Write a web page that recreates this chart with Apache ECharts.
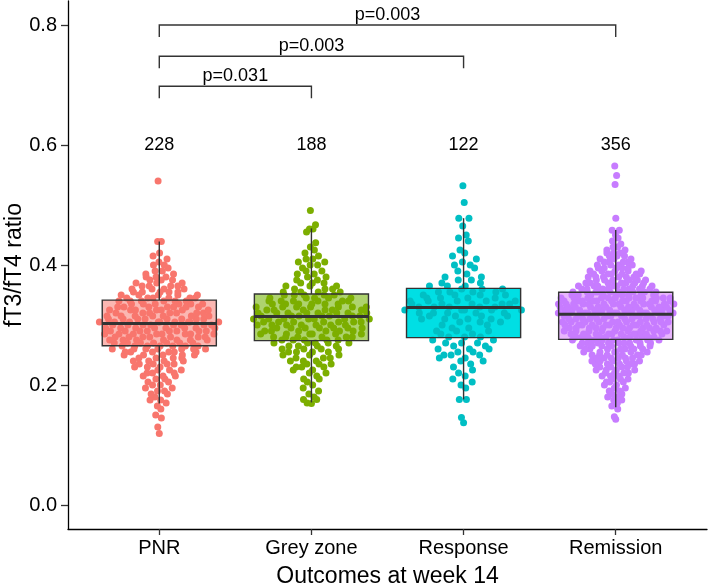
<!DOCTYPE html>
<html><head><meta charset="utf-8">
<script src="https://cdn.jsdelivr.net/npm/echarts@6.0.0/dist/echarts.min.js"></script>
<style>html,body{margin:0;padding:0;background:#fff}#c{width:709px;height:584px}</style>
</head><body><div id="c"></div>
<script>
// ---------------- data ----------------
const categories = ['PNR', 'Grey zone', 'Response', 'Remission'];
const groupSizes = [228, 188, 122, 356];

// [value, number of points at that value]
const pnrBins = [[0.119,1],[0.130,1],[0.145,1],[0.150,1],[0.160,1],[0.165,1],[0.170,1],[0.175,2],[0.180,1],[0.185,2],[0.190,2],[0.195,2],[0.200,2],[0.205,2],[0.210,2],[0.215,3],[0.220,3],[0.225,3],[0.230,3],[0.235,4],[0.240,4],[0.245,4],[0.250,5],[0.255,6],[0.260,7],[0.265,7],[0.270,7],[0.275,7],[0.280,7],[0.285,8],[0.290,8],[0.295,8],[0.300,8],[0.305,9],[0.310,8],[0.315,7],[0.320,7],[0.325,7],[0.330,7],[0.335,6],[0.340,6],[0.345,6],[0.350,5],[0.355,5],[0.360,4],[0.365,4],[0.370,3],[0.375,3],[0.380,3],[0.385,2],[0.390,2],[0.395,1],[0.400,2],[0.405,1],[0.410,1],[0.415,1],[0.420,1],[0.439,2],[0.540,1]];
const greyBins = [[0.169,1],[0.170,1],[0.176,2],[0.180,1],[0.185,1],[0.190,1],[0.195,1],[0.200,1],[0.205,1],[0.210,2],[0.215,1],[0.220,2],[0.225,2],[0.230,3],[0.235,3],[0.240,3],[0.245,3],[0.250,3],[0.255,4],[0.260,4],[0.265,4],[0.270,5],[0.275,5],[0.280,6],[0.285,6],[0.290,6],[0.295,7],[0.300,7],[0.305,7],[0.310,7],[0.315,7],[0.320,8],[0.325,6],[0.330,7],[0.335,6],[0.340,6],[0.345,5],[0.350,5],[0.355,4],[0.360,3],[0.365,3],[0.370,3],[0.375,2],[0.380,2],[0.385,2],[0.390,2],[0.395,1],[0.400,2],[0.405,2],[0.410,2],[0.415,1],[0.420,1],[0.425,1],[0.430,1],[0.437,1],[0.455,1],[0.460,2],[0.467,1],[0.491,1]];
const responseBins = [[0.137,1],[0.146,1],[0.176,2],[0.195,1],[0.200,1],[0.205,1],[0.210,1],[0.215,1],[0.220,1],[0.225,1],[0.230,1],[0.235,1],[0.240,2],[0.245,2],[0.250,3],[0.255,2],[0.260,3],[0.265,2],[0.270,3],[0.275,2],[0.280,3],[0.285,2],[0.290,3],[0.295,2],[0.300,2],[0.305,3],[0.310,4],[0.315,4],[0.320,5],[0.325,5],[0.330,5],[0.335,5],[0.340,5],[0.345,4],[0.350,4],[0.355,4],[0.360,3],[0.365,3],[0.370,2],[0.375,2],[0.380,2],[0.385,1],[0.390,1],[0.395,1],[0.400,2],[0.405,1],[0.410,1],[0.415,1],[0.420,1],[0.425,1],[0.440,1],[0.445,1],[0.450,1],[0.465,1],[0.478,2],[0.504,1],[0.532,1]];
const remissionBins = [[0.143,1],[0.147,1],[0.160,1],[0.165,1],[0.170,1],[0.175,2],[0.180,2],[0.185,2],[0.190,2],[0.195,2],[0.200,2],[0.205,3],[0.210,3],[0.215,3],[0.220,4],[0.225,4],[0.230,4],[0.235,5],[0.240,5],[0.245,6],[0.250,6],[0.255,6],[0.260,7],[0.265,7],[0.270,9],[0.275,9],[0.280,10],[0.285,10],[0.290,10],[0.295,11],[0.300,11],[0.305,11],[0.310,11],[0.315,11],[0.320,12],[0.325,12],[0.330,12],[0.335,13],[0.340,12],[0.345,12],[0.350,9],[0.355,9],[0.360,8],[0.365,8],[0.370,7],[0.375,6],[0.380,6],[0.385,6],[0.390,5],[0.395,5],[0.400,4],[0.405,4],[0.410,3],[0.415,3],[0.420,3],[0.425,2],[0.430,2],[0.435,1],[0.440,1],[0.445,1],[0.450,1],[0.458,2],[0.478,1],[0.534,1],[0.549,1],[0.565,1]];

// [lower whisker, Q1, median, Q3, upper whisker]
const boxStats = [
  [0.169, 0.2655, 0.3025, 0.3415, 0.439],
  [0.171, 0.274, 0.314, 0.3517, 0.461],
  [0.176, 0.279, 0.329, 0.361, 0.478],
  [0.163, 0.276, 0.318, 0.3545, 0.4585]
];

// [group a, group b, bracket height]
const comparisons = [[1, 2, 0.698], [1, 3, 0.748], [1, 4, 0.8]];
const pLabels = ['p=0.031', 'p=0.003', 'p=0.003'];
const countLabelLevel = 0.6;
const yTicks = [0, 0.2, 0.4, 0.6, 0.8];
const xTicks = [1, 2, 3, 4];

// ---------------- styling ----------------
const FONT = '"Liberation Sans", Arial, Helvetica, sans-serif';
const pointColors = ['#F8766D', '#7CAE00', '#00BFC4', '#C77CFF'];
const boxFills = ['#FBB7B2', '#AED36E', '#00DFE4', '#E8B5FD'];
const lineColor = '#333333';
const boxWidth = 0.75;
const spreadWidth = 0.4;     // quasirandom half width
const bwAdjust = 0.5;
const bracketTick = 0.02;
const pointSize = 7;

const chart = echarts.init(document.getElementById('c'), null, {renderer: 'canvas'});

// ---------------- quasirandom layout (van der Corput offsets scaled by density) ----------------
function vanDerCorput(i) { // i >= 1, base 2
  let v = 0, denom = 1;
  while (i > 0) { denom *= 2; v += (i % 2) / denom; i = Math.floor(i / 2); }
  return v;
}
function quasiPoints(bins, gi) {
  const vals = [];
  bins.forEach(([v, c]) => { for (let k = 0; k < c; k++) vals.push(v); });
  vals.sort((a, b) => a - b);
  const n = vals.length;
  const mean = vals.reduce((a, b) => a + b, 0) / n;
  const sd = Math.sqrt(vals.reduce((a, b) => a + (b - mean) * (b - mean), 0) / (n - 1));
  const q = p => { const h = (n - 1) * p, lo = Math.floor(h); return vals[lo] + (h - lo) * ((vals[lo + 1] ?? vals[lo]) - vals[lo]); };
  const iqr = q(0.75) - q(0.25);
  const bw = 0.9 * Math.min(sd, iqr / 1.34) * Math.pow(n, -0.2) * bwAdjust;
  const dens = y => vals.reduce((a, v) => a + Math.exp(-0.5 * ((y - v) / bw) ** 2), 0);
  let maxD = 0;
  const lo = vals[0] - 3 * bw, hi = vals[n - 1] + 3 * bw;
  for (let k = 0; k <= 400; k++) maxD = Math.max(maxD, dens(lo + (hi - lo) * k / 400));
  return vals.map((v, i) => {
    const off = (vanDerCorput(i + 1) - 0.5) * 2 * dens(v) / maxD * spreadWidth;
    return [gi + 1 + off, v];
  });
}

const allBins = [pnrBins, greyBins, responseBins, remissionBins];
const scatterSeries = allBins.map((bins, gi) => ({
  type: 'scatter', z: 3, name: categories[gi],
  symbol: 'circle', symbolSize: pointSize,
  itemStyle: {color: pointColors[gi], opacity: 1},
  data: quasiPoints(bins, gi),
  silent: true
}));

const boxData = boxStats.map((st, i) => [i + 1].concat(st));

function boxFillItem(params, api) {
  const x = api.value(0);
  const tl = api.coord([x - boxWidth / 2, api.value(4)]);
  const br = api.coord([x + boxWidth / 2, api.value(2)]);
  return {type: 'rect', shape: {x: tl[0], y: tl[1], width: br[0] - tl[0], height: br[1] - tl[1]},
          style: {fill: boxFills[params.dataIndex]}};
}
function boxLineItem(params, api) {
  const x = api.value(0);
  const xc = api.coord([x, 0])[0];
  const xl = api.coord([x - boxWidth / 2, 0])[0];
  const xr = api.coord([x + boxWidth / 2, 0])[0];
  const yLo = api.coord([x, api.value(1)])[1];
  const yQ1 = api.coord([x, api.value(2)])[1];
  const yMed = api.coord([x, api.value(3)])[1];
  const yQ3 = api.coord([x, api.value(4)])[1];
  const yHi = api.coord([x, api.value(5)])[1];
  const st = {stroke: lineColor, lineWidth: 1.4, fill: null};
  return {type: 'group', children: [
    {type: 'line', shape: {x1: xc, y1: yHi, x2: xc, y2: yQ3}, style: st},
    {type: 'line', shape: {x1: xc, y1: yQ1, x2: xc, y2: yLo}, style: st},
    {type: 'rect', shape: {x: xl, y: yQ3, width: xr - xl, height: yQ1 - yQ3}, style: st},
    {type: 'line', shape: {x1: xl, y1: yMed, x2: xr, y2: yMed}, style: {stroke: lineColor, lineWidth: 3}}
  ]};
}
function bracketItem(params, api) {
  const a = api.value(0), b = api.value(1), h = api.value(2);
  const p1 = api.coord([a, h - bracketTick]);
  const p2 = api.coord([a, h]);
  const p3 = api.coord([b, h]);
  const p4 = api.coord([b, h - bracketTick]);
  return {type: 'group', children: [
    {type: 'polyline', shape: {points: [p1, p2, p3, p4]}, style: {stroke: lineColor, lineWidth: 1.4, fill: null}},
    {type: 'text', x: (p2[0] + p3[0]) / 2, y: p2[1] - 10,
     style: {text: pLabels[params.dataIndex], fontSize: 18, fontFamily: FONT, fill: '#000', align: 'center', verticalAlign: 'middle'}}
  ]};
}
function countItem(params, api) {
  const p = api.coord([api.value(0), api.value(1)]);
  return {type: 'text', x: p[0], y: p[1],
          style: {text: String(groupSizes[params.dataIndex]), fontSize: 18, fontFamily: FONT, fill: '#000', align: 'center', verticalAlign: 'middle'}};
}

chart.setOption({
  animation: false,
  backgroundColor: '#fff',
  grid: {left: 68, right: 2, top: 1, bottom: 55, containLabel: false, outerBoundsMode: 'none'},
  xAxis: {
    type: 'value', min: 0.4, max: 4.6,
    splitLine: {show: false},
    axisLine: {show: true, onZero: false, lineStyle: {color: '#000', width: 1.3}},
    axisTick: {show: true, customValues: xTicks, length: 6, lineStyle: {color: lineColor, width: 1.3}},
    axisLabel: {customValues: xTicks, formatter: v => categories[Math.round(v) - 1], fontSize: 20, color: '#000', fontFamily: FONT, margin: 9},
    name: 'Outcomes at week 14', nameLocation: 'middle', nameGap: 36, nameMoveOverlap: false,
    nameTextStyle: {fontSize: 23, color: '#000', fontFamily: FONT}
  },
  yAxis: {
    type: 'value', min: -0.04, max: 0.84,
    splitLine: {show: false},
    axisLine: {show: true, onZero: false, lineStyle: {color: '#000', width: 1.3}},
    axisTick: {show: true, customValues: yTicks, length: 7, lineStyle: {color: lineColor, width: 1.3}},
    axisLabel: {customValues: yTicks, formatter: v => v.toFixed(1), fontSize: 20, color: '#000', fontFamily: FONT, margin: 11},
    name: 'fT3/fT4 ratio', nameLocation: 'middle', nameGap: 42, nameMoveOverlap: false,
    nameTextStyle: {fontSize: 23, color: '#000', fontFamily: FONT}
  },
  series: [
    {type: 'custom', z: 2, silent: true, renderItem: boxFillItem, data: boxData, encode: {x: 0, y: [1, 2, 3, 4, 5]}},
    ...scatterSeries,
    {type: 'custom', z: 4, silent: true, renderItem: boxLineItem, data: boxData, encode: {x: 0, y: [1, 2, 3, 4, 5]}},
    {type: 'custom', z: 4, silent: true, renderItem: bracketItem, data: comparisons, encode: {x: [0, 1], y: 2}},
    {type: 'custom', z: 4, silent: true, renderItem: countItem,
     data: categories.map((c, i) => [i + 1, countLabelLevel]), encode: {x: 0, y: 1}}
  ]
});
</script>
</body></html>
